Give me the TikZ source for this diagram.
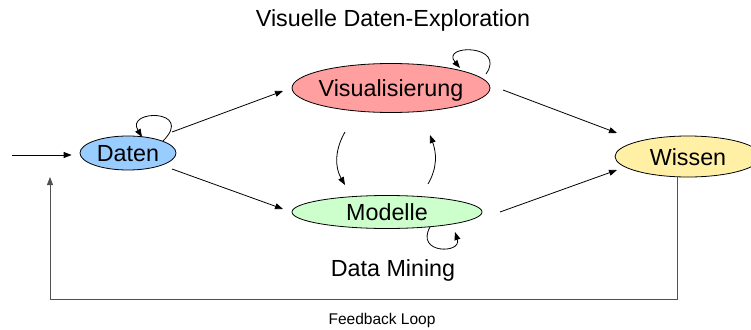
\documentclass[tikz,border=0pt]{standalone}
\usepackage{fontspec}
\setmainfont{Liberation Sans}
\usetikzlibrary{shapes.geometric,arrows.meta}
\definecolor{cdaten}{HTML}{99CCFF}
\definecolor{cvis}{HTML}{FF9F9F}
\definecolor{cmod}{HTML}{CCFFCC}
\definecolor{cwis}{HTML}{FFF0A6}
\definecolor{cline}{HTML}{505050}
\tikzset{
  state/.style={ellipse,draw=black,line width=0.8pt,inner sep=0pt,
    font=\fontsize{23.3}{26}\selectfont,text height=17pt,text depth=0pt},
  arr/.style={line width=0.8pt,-{Triangle[length=8pt,width=6pt]}},
  lbl/.style={font=\fontsize{23.3}{26}\selectfont,inner sep=0pt},
  small/.style={font=\fontsize{15.5}{18}\selectfont,inner sep=0pt}
}
\begin{document}
\begin{tikzpicture}[x=1pt,y=1pt]
\useasboundingbox (0,0) rectangle (751,-329);
\begin{scope}
\clip (0,0) rectangle (751,-329);
\node[state,fill=cdaten,minimum width=96pt,minimum height=34pt] (daten) at (128,-153) {\makebox[0pt]{Daten}};
\node[state,fill=cvis,minimum width=198pt,minimum height=49pt] (vis) at (391,-88) {\makebox[0pt]{Visualisierung}};
\node[state,fill=cmod,minimum width=190pt,minimum height=33pt] (mod) at (387,-212) {\makebox[0pt]{Modelle}};
\node[state,fill=cwis,minimum width=146pt,minimum height=41pt] (wis) at (688,-156.5) {\makebox[0pt]{Wissen}};
\end{scope}

\node[lbl] (t1) at (393,-20) {Visuelle Daten-Exploration};
\node[lbl] (t2) at (393,-270) {Data Mining};
\node[small] (t3) at (382,-320) {Feedback Loop};

% input
\coordinate (in) at (12,-155);
\draw[arr] (in) -- ([xshift=-8pt]daten.west |- in);

% main arrows
\draw[arr] ([shift={(44,21)}]daten.center) -- ([shift={(-108,-3)}]vis.center);
\draw[arr] ([shift={(44,-16)}]daten.center) -- ([shift={(-104,3)}]mod.center);
\draw[arr] ([shift={(112,-2)}]vis.center) -- ([shift={(-71,23.5)}]wis.center);
\draw[arr] ([shift={(113,0)}]mod.center) -- ([shift={(-71,-13.5)}]wis.center);

% curved arrows between vis and mod
\draw[arr] ([shift={(-46,-44)}]vis.center) to[out=240,in=120] ([shift={(-42,27)}]mod.center);
\draw[arr] ([shift={(41,28)}]mod.center) to[out=60,in=290] ([shift={(39,-47)}]vis.center);

% self loops
\draw[arr] ([shift={(35,12)}]daten.center) .. controls (195,-109) and (125,-109) .. ([shift={(14,16)}]daten.center);
\draw[arr] ([shift={(95,14)}]vis.center) .. controls (507,-44) and (440,-44) .. ([shift={(69,20)}]vis.center);
\draw[arr] ([shift={(43,-15)}]mod.center) .. controls (415,-254) and (462,-254) .. ([shift={(68,-20)}]mod.center);

% feedback loop
\coordinate (fb) at (50,-177);
\draw[arr,draw=cline] ([xshift=-11pt]wis.south) -- ++(0,-122) -| (fb);
\end{tikzpicture}
\end{document}
